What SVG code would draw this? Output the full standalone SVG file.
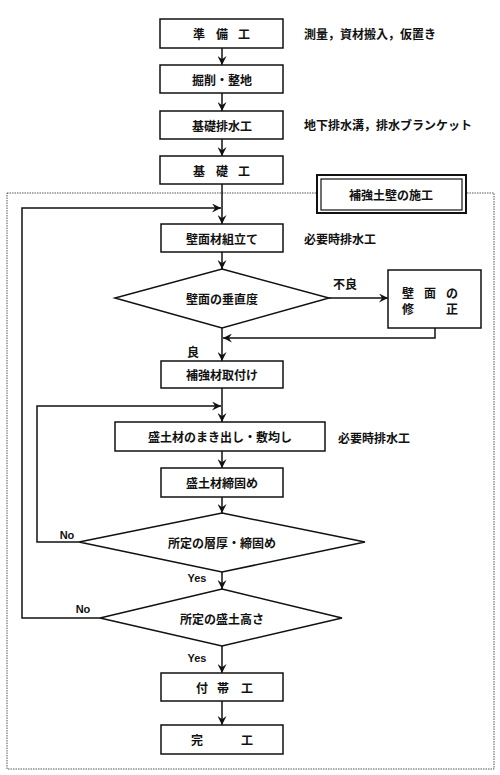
<svg xmlns="http://www.w3.org/2000/svg" width="500" height="775" viewBox="0 0 500 775">
<defs>
<marker id="ah" viewBox="0 0 10 10" refX="10" refY="5" markerWidth="9" markerHeight="9" markerUnits="userSpaceOnUse" orient="auto">
<path d="M0,0 L10,5 L0,10 L3.5,5 z" fill="#111"/>
</marker>
<style>
.b{fill:#fff;stroke:#111;stroke-width:1.5}
.t{font-family:"Noto Sans CJK JP","Noto Sans",sans-serif;font-size:12px;font-weight:bold;fill:#111;dominant-baseline:central}
.c{text-anchor:middle}
.e{font-family:"Liberation Sans",Arial,sans-serif;font-size:11px;font-weight:bold;fill:#111;text-anchor:middle;dominant-baseline:central}
.l{fill:none;stroke:#111;stroke-width:1.5}
.a{marker-end:url(#ah)}
</style>
</defs>
<rect width="500" height="775" fill="#fff"/>
<rect x="7" y="193" width="487" height="576" fill="none" stroke="#555" stroke-width="1" stroke-dasharray="1.5 1"/>
<g id="connectors">
<line class="l a" x1="222" y1="48" x2="222" y2="65"/>
<line class="l a" x1="222" y1="93" x2="222" y2="111"/>
<line class="l a" x1="222" y1="139" x2="222" y2="156"/>
<line class="l a" x1="222" y1="184" x2="222" y2="224"/>
<polyline class="l a" points="100,618 22,618 22,208 221,208"/>
<line class="l a" x1="222" y1="252" x2="222" y2="269"/>
<line class="l a" x1="329" y1="298" x2="388" y2="298"/>
<polyline class="l a" points="435,328 435,338 223,338"/>
<line class="l a" x1="222" y1="328" x2="222" y2="361"/>
<line class="l a" x1="222" y1="388" x2="222" y2="422"/>
<polyline class="l a" points="79,542 37,542 37,406 221,406"/>
<line class="l a" x1="222" y1="451" x2="222" y2="468"/>
<line class="l a" x1="222" y1="497" x2="222" y2="513"/>
<line class="l a" x1="222" y1="572" x2="222" y2="589"/>
<line class="l a" x1="222" y1="646" x2="222" y2="673"/>
<line class="l a" x1="222" y1="701" x2="222" y2="725"/>
<text class="t c" x="345" y="283">不良</text>
<text class="t c" x="193" y="351">良</text>
<text class="e" x="67" y="535">No</text>
<text class="e" x="197" y="578">Yes</text>
<text class="e" x="83" y="609">No</text>
<text class="e" x="197" y="658">Yes</text>
</g>
<g id="title">
<rect x="317" y="175" width="149" height="38" fill="#fff" stroke="#111" stroke-width="2"/>
<rect x="321" y="179" width="141" height="31" fill="none" stroke="#111" stroke-width="1.2"/>
<text class="t c" x="391" y="194">補強土壁の施工</text>
</g>
<g id="n1">
<rect class="b" x="160" y="19" width="123" height="29"/>
<text class="t c" x="199 222 244" y="33.5">準備工</text>
<text class="t" x="304" y="33">測量，資材搬入，仮置き</text>
</g>
<g id="n2">
<rect class="b" x="160" y="65" width="123" height="28"/>
<text class="t c" x="222" y="79">掘削・整地</text>
</g>
<g id="n3">
<rect class="b" x="160" y="111" width="123" height="28"/>
<text class="t c" x="222" y="125">基礎排水工</text>
<text class="t" x="304" y="124">地下排水溝，排水ブランケット</text>
</g>
<g id="n4">
<rect class="b" x="160" y="156" width="123" height="28"/>
<text class="t c" x="199 222 244" y="170">基礎工</text>
</g>
<g id="n5">
<rect class="b" x="161" y="224" width="122" height="28"/>
<text class="t c" x="222" y="238">壁面材組立て</text>
<text class="t" x="304" y="238">必要時排水工</text>
</g>
<g id="d1">
<polygon class="b" points="222,269 329,298 222,328 115,298"/>
<text class="t c" x="222" y="298">壁面の垂直度</text>
</g>
<g id="n6">
<rect class="b" x="388" y="270" width="93" height="58"/>
<text class="t c" x="408 430 452" y="292">壁面の</text>
<text class="t c" x="408 452" y="308">修正</text>
</g>
<g id="n7">
<rect class="b" x="161" y="361" width="122" height="27"/>
<text class="t c" x="222" y="374.5">補強材取付け</text>
</g>
<g id="n8">
<rect class="b" x="115" y="422" width="210" height="29"/>
<text class="t c" x="220" y="436.5">盛土材のまき出し・敷均し</text>
<text class="t" x="338" y="437">必要時排水工</text>
</g>
<g id="n9">
<rect class="b" x="161" y="468" width="122" height="29"/>
<text class="t c" x="222" y="482.5">盛土材締固め</text>
</g>
<g id="d2">
<polygon class="b" points="222,513 365,542 222,572 79,542"/>
<text class="t c" x="222" y="542">所定の層厚・締固め</text>
</g>
<g id="d3">
<polygon class="b" points="222,589 342,618 222,646 100,618"/>
<text class="t c" x="222" y="618">所定の盛土高さ</text>
</g>
<g id="n10">
<rect class="b" x="161" y="673" width="122" height="28"/>
<text class="t c" x="202 223 247" y="687">付帯工</text>
</g>
<g id="n11">
<rect class="b" x="161" y="725" width="122" height="29"/>
<text class="t c" x="197 247" y="739.5">完工</text>
</g>
</svg>
